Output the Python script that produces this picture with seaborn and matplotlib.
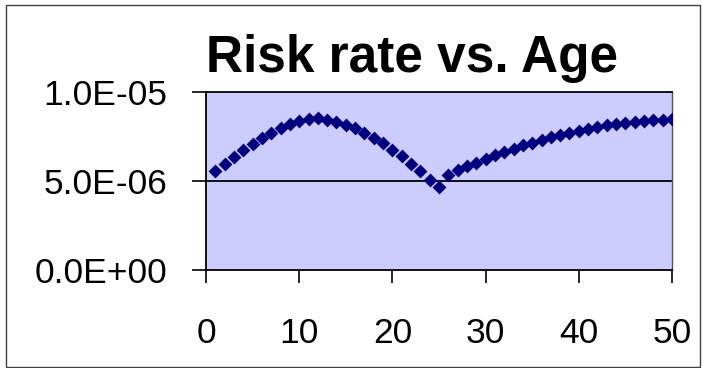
import numpy as np
import pandas as pd
import seaborn as sns
import matplotlib.pyplot as plt
from matplotlib.ticker import FuncFormatter
from matplotlib.patches import Rectangle

# values (rate in units of 1e-6)
age = list(range(1, 51))
rate_e6 = [5.54, 5.97, 6.35, 6.72, 7.10, 7.42, 7.72, 8.00, 8.23, 8.38,
           8.48, 8.52, 8.45, 8.33, 8.15, 7.95, 7.72, 7.44, 7.14, 6.76,
           6.38, 5.97, 5.55, 5.08, 4.65, 5.33, 5.59, 5.82, 6.03, 6.21,
           6.44, 6.63, 6.82, 7.00, 7.16, 7.33, 7.47, 7.57, 7.68, 7.80,
           7.91, 8.02, 8.12, 8.20, 8.27, 8.33, 8.38, 8.42, 8.45, 8.47]
x_ticks = [0, 10, 20, 30, 40, 50]
y_ticks = [0, 5e-6, 1e-5]
title = 'Risk rate vs. Age'

df = pd.DataFrame({'Age': age, 'Rate': np.array(rate_e6) * 1e-6})

sns.set_style('white')
plt.rcParams['font.family'] = ['Liberation Sans', 'DejaVu Sans']
plt.rcParams['text.color'] = 'black'

fig = plt.figure(figsize=(7.02, 3.68), dpi=100)
ax = fig.add_axes([206 / 702, 1 - 270 / 368, 466 / 702, 178 / 368])
ax.set_facecolor('#ccccff')

sns.scatterplot(data=df, x='Age', y='Rate', marker='D', s=50, color='#000080',
                linewidth=0, ax=ax, zorder=3)

ax.set_xlim(0, 50)
ax.set_ylim(0, 1e-5)
ax.set_xticks(x_ticks)
ax.set_yticks(y_ticks)
ax.yaxis.set_major_formatter(FuncFormatter(lambda v, p: '{:.1E}'.format(v)))
ax.axhline(5e-6, color='black', lw=1.3, zorder=1)
ax.set_xlabel(None)
ax.set_ylabel(None)

for side in ['left', 'bottom', 'top']:
    ax.spines[side].set_color('black')
    ax.spines[side].set_linewidth(1.3)
ax.spines['right'].set_color('#555555')
ax.spines['right'].set_linewidth(1.0)

ax.tick_params(axis='both', which='major', direction='out', colors='black',
               labelcolor='black', labelsize=25.5, width=1.2)
ax.tick_params(axis='x', length=9, pad=25)
ax.tick_params(axis='y', length=10, pad=18)
ax.tick_params(left=True, bottom=True)

fig.text(412 / 702, 1 - 72 / 368, title, ha='center', va='baseline',
         fontsize=37, fontweight='bold', color='black')

fig.patches.append(Rectangle((6 / 702, 1 / 368), 694 / 702, 362 / 368,
                             transform=fig.transFigure, fill=False,
                             edgecolor='#404040', lw=1.0))

plt.savefig('out.png', dpi=100)
